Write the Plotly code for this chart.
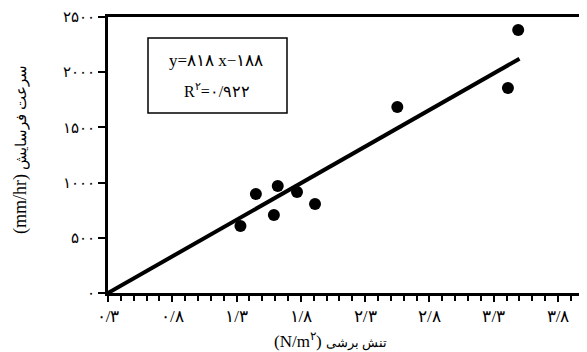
import plotly.graph_objects as go

# data
shear_stress = [1.33, 1.45, 1.59, 1.62, 1.77, 1.91, 2.55, 3.41, 3.49]
erosion_rate = [607, 897, 707, 969, 915, 806, 1685, 1857, 2382]
trend_x = [0.3, 3.5]
trend_y = [0, 2122]

x_tick_vals = [0.3, 0.8, 1.3, 1.8, 2.3, 2.8, 3.3, 3.8]
x_tick_text = ["۰/۳", "۰/۸", "۱/۳", "۱/۸", "۲/۳", "۲/۸", "۳/۳", "۳/۸"]
x_minor_vals = [round(0.3 + 0.1 * i, 1) for i in range(38)]
y_tick_vals = [0, 500, 1000, 1500, 2000, 2500]
y_tick_text = ["۰", "۵۰۰", "۱۰۰۰", "۱۵۰۰", "۲۰۰۰", "۲۵۰۰"]

FONT = "Liberation Serif, Times New Roman, serif"

fig = go.Figure()
fig.add_trace(go.Scatter(x=trend_x, y=trend_y, mode="lines",
                         line=dict(color="black", width=4), hoverinfo="skip"))
fig.add_trace(go.Scatter(x=shear_stress, y=erosion_rate, mode="markers",
                         marker=dict(color="black", size=12)))

# page body has an 8px margin; the figure is sized/margined to compensate
fig.update_layout(
    width=579, height=344,
    margin=dict(l=100, r=0, t=9, b=59, autoexpand=False),
    paper_bgcolor="white", plot_bgcolor="white",
    showlegend=False,
    font=dict(family=FONT, color="black", size=13),
    xaxis=dict(range=[0.3, 4.025], tickmode="array", tickvals=x_tick_vals, ticktext=x_tick_text,
               showgrid=False, zeroline=False, showline=True, linecolor="black",
               linewidth=3, mirror=True, ticks="outside", ticklen=6, tickwidth=1.5,
               tickcolor="black", tickfont=dict(size=17, family=FONT),
               minor=dict(tickmode="array", tickvals=x_minor_vals, ticks="outside", ticklen=5,
                          tickwidth=1.5, tickcolor="black", showgrid=False)),
    yaxis=dict(range=[0, 2500], tickmode="array", tickvals=y_tick_vals, ticktext=y_tick_text,
               showgrid=False, zeroline=False, showline=True, linecolor="black",
               linewidth=3, ticks="outside", ticklen=7, tickwidth=1.5,
               tickcolor="black", tickfont=dict(size=15, family=FONT)),
)

# equation box
fig.add_shape(type="rect", xref="paper", yref="paper",
              x0=(148 - 108) / 479, x1=(287 - 108) / 479,
              y0=(293 - 113) / 276, y1=(293 - 38) / 276,
              line=dict(color="black", width=1.5), fillcolor="white")
fig.add_annotation(xref="paper", yref="paper", x=(216 - 108) / 479, y=(293 - 60) / 276,
                   xanchor="center", yanchor="middle",
                   text="y=۸۱۸ x−۱۸۸", showarrow=False, font=dict(size=17, family=FONT))
fig.add_annotation(xref="paper", yref="paper", x=(217 - 108) / 479, y=(293 - 90) / 276,
                   xanchor="center", yanchor="middle",
                   text="R<sup>۲</sup>=۰/۹۲۲", showarrow=False, font=dict(size=16, family=FONT))

# axis titles
fig.add_annotation(xref="paper", yref="paper", x=(20 - 108) / 479, y=(293 - 150) / 276,
                   xanchor="center", yanchor="middle",
                   text="(mm/hr) <span style='font-size:15px'>سرعت فرسایش</span>",
                   textangle=-90, showarrow=False,
                   font=dict(size=18, family=FONT))
fig.add_annotation(xref="paper", yref="paper", x=(330 - 108) / 479, y=(293 - 340) / 276,
                   xanchor="center", yanchor="middle",
                   text="(N/m<sup>۲</sup>) <span style='font-size:13px'>تنش برشی</span>",
                   showarrow=False, font=dict(size=17, family=FONT))

fig.write_html("out.html")
